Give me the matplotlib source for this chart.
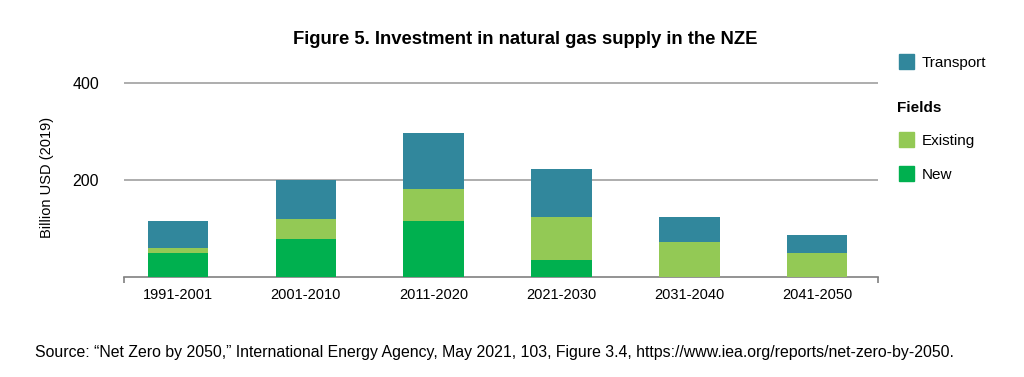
import numpy as np
import matplotlib
matplotlib.use("Agg")
import matplotlib.pyplot as plt
from matplotlib.patches import Rectangle

plt.rcParams['font.family'] = ['Liberation Sans', 'DejaVu Sans']

periods = ['1991-2001', '2001-2010', '2011-2020', '2021-2030', '2031-2040', '2041-2050']
new_fields = np.array([49, 79, 115, 36, 0, 0])
existing_fields = np.array([12, 40, 67, 87, 72, 50])
transport = np.array([54, 82, 116, 100, 51, 36])

c_transport = '#31879c'
c_existing = '#93c955'
c_new = '#00b04f'

fig = plt.figure(figsize=(10.24, 3.77), dpi=100)
ax = fig.add_axes([0.121, 0.265, 0.736, 0.527])

x = np.arange(len(periods))
w = 0.47
ax.bar(x, new_fields, w, color=c_new, zorder=3)
ax.bar(x, existing_fields, w, bottom=new_fields, color=c_existing, zorder=3)
ax.bar(x, transport, w, bottom=new_fields + existing_fields, color=c_transport, zorder=3)

ax.set_xlim(-0.42, 5.47)
ax.set_ylim(0, 410)
ax.set_yticks([200, 400])
ax.set_yticklabels(['200', '400'], fontsize=11.5)
ax.set_xticks(x)
ax.set_xticklabels(periods, fontsize=10.5)
ax.set_xticks([-0.42, 5.47], minor=True)
ax.tick_params(axis='x', which='minor', length=4, width=1.2, color='#808080', direction='out')
ax.tick_params(axis='both', which='major', length=0, pad=8)
ax.tick_params(axis='y', pad=18)
ax.grid(axis='y', color='#a0a0a0', linewidth=1.2, zorder=0)
for s in ['top', 'right', 'left']:
    ax.spines[s].set_visible(False)
ax.spines['bottom'].set_color('#808080')
ax.spines['bottom'].set_linewidth(1.2)
ax.set_ylabel('Billion USD (2019)', fontsize=10.5, labelpad=13)

fig.text(0.513, 1 - 40 / 377, 'Figure 5. Investment in natural gas supply in the NZE',
         ha='center', va='center', fontsize=13.3, fontweight='bold')

# legend
def leg_item(ytop, label, color):
    fig.patches.append(Rectangle((899 / 1024, 1 - (ytop + 14.5) / 377), 14.5 / 1024, 14.5 / 377,
                                 transform=fig.transFigure, color=color))
    fig.text(922 / 1024, 1 - (ytop + 9) / 377, label, ha='left', va='center', fontsize=11)

leg_item(54, 'Transport', c_transport)
fig.text(897 / 1024, 1 - 108 / 377, 'Fields', ha='left', va='center', fontsize=11, fontweight='bold')
leg_item(132, 'Existing', c_existing)
leg_item(166, 'New', c_new)

fig.text(35 / 1024, 1 - 352 / 377,
         'Source: \u201cNet Zero by 2050,\u201d International Energy Agency, May 2021, 103, Figure 3.4, '
         'https://www.iea.org/reports/net-zero-by-2050.',
         ha='left', va='center', fontsize=11.4)

fig.savefig('out.png', dpi=100, facecolor='white')
